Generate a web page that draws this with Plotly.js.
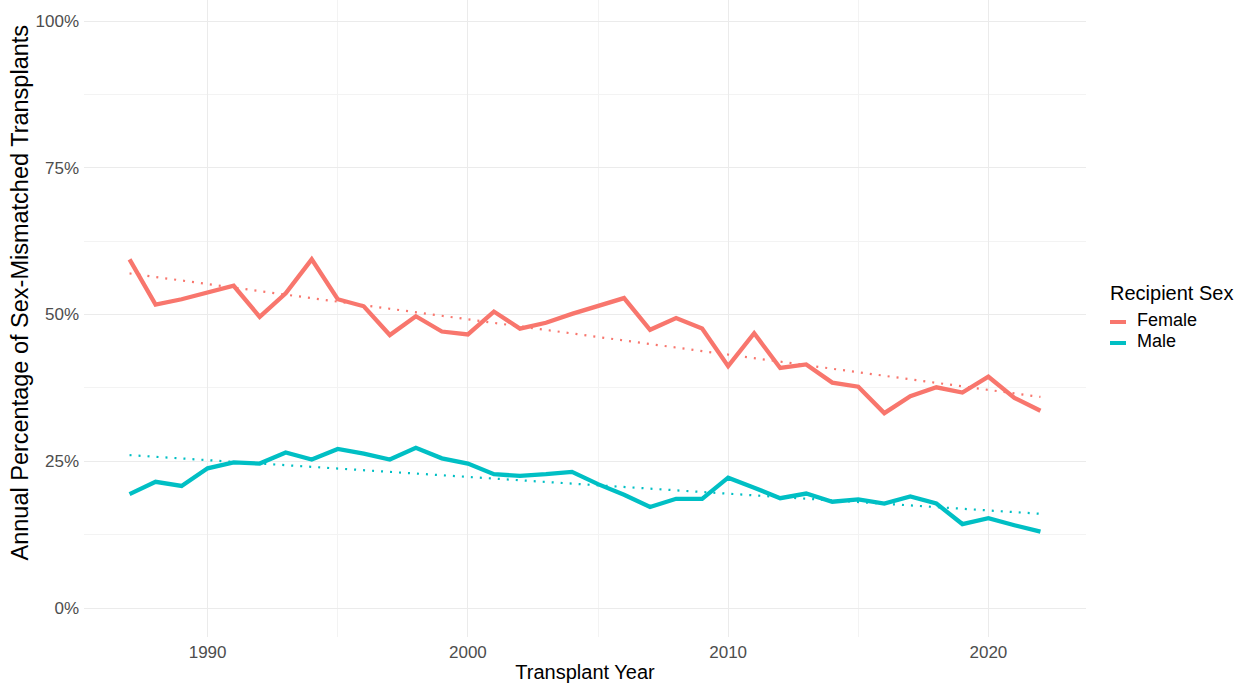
<!DOCTYPE html>
<html>
<head>
<meta charset="utf-8">
<script src="https://cdn.plot.ly/plotly-3.0.1.min.js"></script>
<style>html,body{margin:0;padding:0;background:#fff;}#chart{width:1257px;height:690px;}</style>
</head>
<body>
<div id="chart"></div>
<script>
const years = [1987,1988,1989,1990,1991,1992,1993,1994,1995,1996,1997,1998,1999,2000,2001,2002,2003,2004,2005,2006,2007,2008,2009,2010,2011,2012,2013,2014,2015,2016,2017,2018,2019,2020,2021,2022];
const female = [59.4,51.7,52.6,53.7,54.9,49.6,53.6,59.4,52.6,51.4,46.5,49.7,47.1,46.6,50.5,47.6,48.6,50.1,51.4,52.8,47.4,49.4,47.6,41.2,46.8,40.9,41.5,38.4,37.7,33.2,36.1,37.6,36.7,39.4,35.8,33.6];
const male = [19.4,21.5,20.8,23.8,24.8,24.6,26.5,25.3,27.1,26.3,25.3,27.3,25.5,24.6,22.8,22.5,22.8,23.2,21.1,19.3,17.2,18.6,18.6,22.2,20.5,18.7,19.5,18.1,18.5,17.8,19.0,17.8,14.3,15.3,14.1,13.0];
const seriesNames = ["Female","Male"];
const legendTitle = "Recipient Sex";
const xTitle = "Transplant Year";
const yTitle = "Annual Percentage of Sex-Mismatched Transplants";
const colors = ["#F8766D","#00BFC4"];
const yTicks = [0,25,50,75,100];
const xTicks = [1990,2000,2010,2020];

function fit(x, y) {
  const n = x.length;
  const mx = x.reduce((a,b)=>a+b,0)/n, my = y.reduce((a,b)=>a+b,0)/n;
  let sxy=0, sxx=0;
  for (let i=0;i<n;i++){ sxy += (x[i]-mx)*(y[i]-my); sxx += (x[i]-mx)*(x[i]-mx); }
  const b = sxy/sxx, a = my - b*mx;
  return x.map(v => a + b*v);
}

const F = "'Liberation Sans', Arial, sans-serif";
const traces = [];
[female, male].forEach((vals, i) => {
  traces.push({x: years, y: fit(years, vals), mode:'lines', line:{color:colors[i], width:2.2, dash:'2px,7px'}, showlegend:false, hoverinfo:'skip'});
});
[female, male].forEach((vals, i) => {
  traces.push({x: years, y: vals, mode:'lines', name: seriesNames[i], line:{color:colors[i], width:4.3}, showlegend:false});
});

// plot area: 84..1086 px wide, 0..637 px tall
const W = 1002, H = 637, L = 84;
const px = v => (v - L) / W;
const py = v => (H - v) / H;
const annotations = [
  {text: legendTitle, xref:'paper', yref:'paper', x: px(1108), y: py(293), xanchor:'left', yanchor:'middle',
   showarrow:false, font:{family:F, size:20, color:'#000'}},
  {text: yTitle, xref:'paper', yref:'paper', x: px(20), y: py(292.5), xanchor:'center', yanchor:'middle',
   textangle:-90, showarrow:false, font:{family:F, size:23.5, color:'#000'}}
];
const shapes = [];
seriesNames.forEach((nm, i) => {
  const yc = 320 + i*21;
  annotations.push({text: nm, xref:'paper', yref:'paper', x: px(1136), y: py(yc), xanchor:'left', yanchor:'middle',
    showarrow:false, borderpad:0, font:{family:F, size:18, color:'#000'}});
  shapes.push({type:'line', xref:'paper', yref:'paper', x0: px(1110), x1: px(1126), y0: py(yc+2), y1: py(yc+2),
    line:{color:colors[i], width:4}});
});

const layout = {
  width:1257, height:690,
  margin:{l:84, r:171, t:0, b:53},
  paper_bgcolor:'#fff', plot_bgcolor:'#fff',
  font:{family:F, color:'#000'},
  xaxis:{
    range:[1985.25, 2023.75], tickvals:xTicks, ticktext:xTicks.map(String),
    showgrid:true, gridcolor:'#EBEBEB', gridwidth:1, zeroline:false, showline:false, ticks:'',
    minor:{dtick:5, tick0:1985, showgrid:true, gridcolor:'#F3F3F3', gridwidth:1},
    tickfont:{family:F, size:17, color:'#4D4D4D'}, ticklabelstandoff:3,
    title:{text: xTitle, font:{family:F, size:20, color:'#000'}, standoff:3},
    automargin:false
  },
  yaxis:{
    range:[-4.94, 103.58], tickvals:yTicks, ticktext:yTicks.map(v=>v+'%'),
    showgrid:true, gridcolor:'#EBEBEB', gridwidth:1, zeroline:false, showline:false, ticks:'',
    minor:{dtick:12.5, tick0:0, showgrid:true, gridcolor:'#F3F3F3', gridwidth:1},
    tickfont:{family:F, size:17, color:'#4D4D4D'}, ticklabelstandoff:4,
    automargin:false
  },
  annotations: annotations,
  shapes: shapes,
  showlegend:false
};
Plotly.newPlot('chart', traces, layout, {displayModeBar:false, staticPlot:true});
</script>
</body>
</html>
